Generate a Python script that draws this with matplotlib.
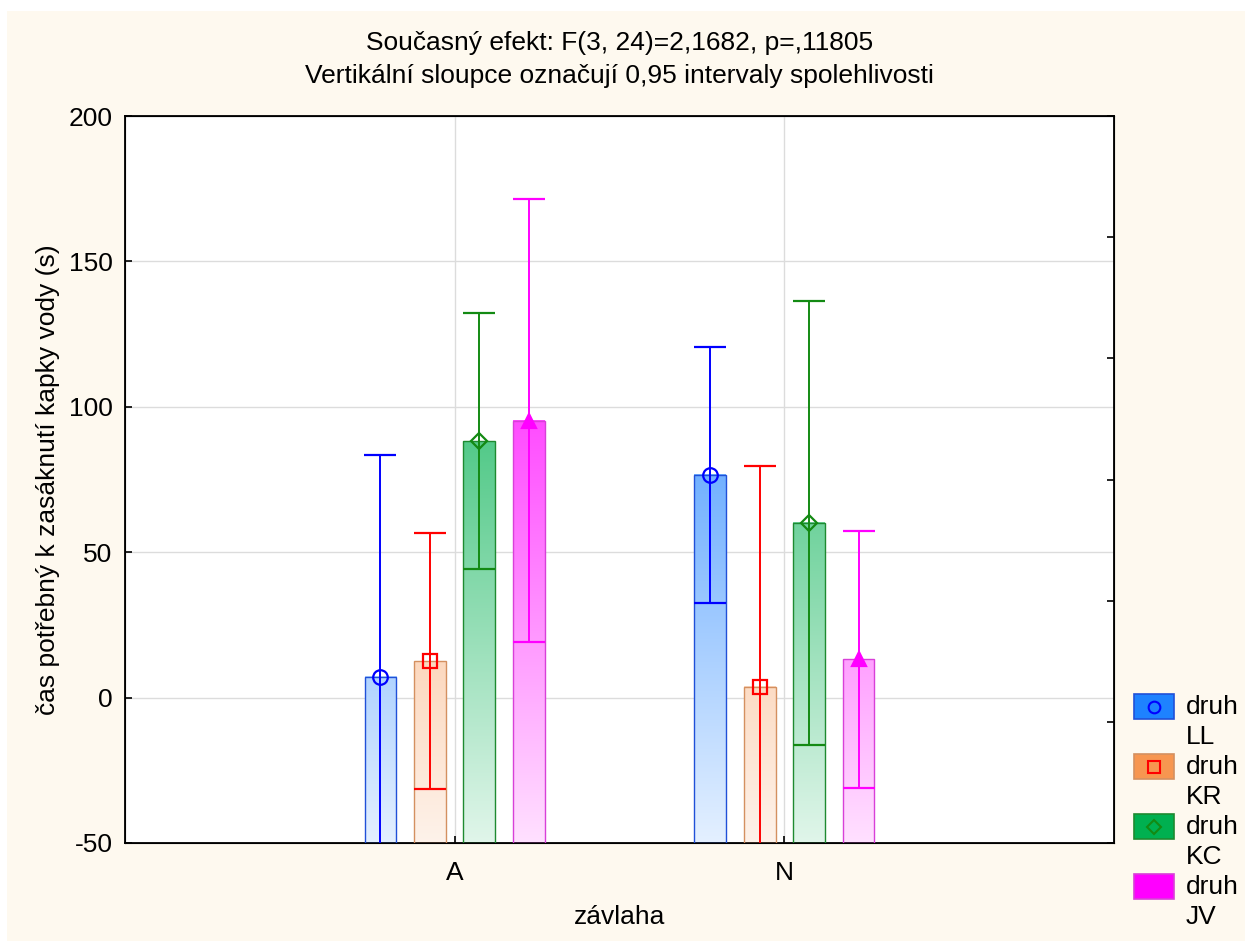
import numpy as np
import matplotlib
matplotlib.use("Agg")
import matplotlib.pyplot as plt
from matplotlib.patches import Rectangle
from matplotlib.lines import Line2D

plt.rcParams['font.family'] = ['Liberation Sans', 'DejaVu Sans']

# ---- data ----
groups = ["A", "N"]
series = ["druh\nLL", "druh\nKR", "druh\nKC", "druh\nJV"]
means = {
    "LL": [7.1, 76.6],
    "KR": [12.5, 3.8],
    "KC": [88.2, 60.1],
    "JV": [95.2, 13.2],
}
upper = {
    "LL": [83.3, 120.6],
    "KR": [56.5, 79.7],
    "KC": [132.2, 136.4],
    "JV": [171.4, 57.4],
}
lower = {
    "LL": [-69.1, 32.6],
    "KR": [-31.5, -72.1],
    "KC": [44.2, -16.2],
    "JV": [19.0, -31.0],
}
keys = ["LL", "KR", "KC", "JV"]
yticks = [-50, 0, 50, 100, 150, 200]

# ---- styles ----
base_col = {"LL": (30, 130, 255), "KR": (247, 150, 80), "KC": (0, 176, 80), "JV": (255, 0, 255)}
edge_col = {"LL": "#2050d8", "KR": "#d49060", "KC": "#1e8a30", "JV": "#d840d8"}
line_col = {"LL": "#0000ff", "KR": "#ff0000", "KC": "#138a13", "JV": "#ff00ff"}
markers = {"LL": "o", "KR": "s", "KC": "D", "JV": "^"}
msize = {"LL": 10.5, "KR": 10.0, "KC": 8.5, "JV": 10.0}
mface = {"LL": "none", "KR": "none", "KC": "none", "JV": "#ff00ff"}
offsets = [-0.225, -0.075, 0.075, 0.225]
bw = 0.097
YMIN, YMAX = -50, 200
FS = 19

W, H = 1245, 941
fig = plt.figure(figsize=(W / 100, H / 100), dpi=100, facecolor="white")
fig.patches.append(Rectangle((7 / W, 0), 1, (H - 11) / H, transform=fig.transFigure,
                             facecolor="#fef9ef", edgecolor="none", zorder=-10))

ax = fig.add_axes([125 / W, (H - 843) / H, 989 / W, 727 / H])
ax.set_facecolor("white")
ax.set_xlim(0, 3)
ax.set_ylim(YMIN, YMAX)

def grad_color(key, vals):
    b = np.array(base_col[key]) / 255.0
    f = (vals - YMIN) / (YMAX - YMIN)
    a = np.clip(0.12 + 1.0 * f, 0, 1)[:, None]
    return 1 - a * (1 - b)

for si, key in enumerate(keys):
    for gi in range(len(groups)):
        xc = gi + 1 + offsets[si]
        m = means[key][gi]
        vals = np.linspace(YMIN, m, 200)
        img = grad_color(key, vals)[:, None, :]
        ax.imshow(img, extent=[xc - bw / 2, xc + bw / 2, YMIN, m], origin="lower",
                  aspect="auto", zorder=2, interpolation="bilinear")
        ax.add_patch(Rectangle((xc - bw / 2, YMIN), bw, m - YMIN, facecolor="none",
                               edgecolor=edge_col[key], lw=1.0, zorder=3))
    xs = np.arange(1, len(groups) + 1) + offsets[si]
    mv = np.array(means[key])
    lo = mv - np.array(lower[key])
    up = np.array(upper[key]) - mv
    ax.errorbar(xs, mv, yerr=[lo, up], fmt=markers[key], color=line_col[key],
                ecolor=line_col[key], elinewidth=1.4, capsize=11.6, capthick=1.4,
                markersize=msize[key], markerfacecolor=mface[key],
                markeredgecolor=line_col[key], markeredgewidth=1.6, zorder=4)

ax.set_xlim(0, 3)
ax.set_ylim(YMIN, YMAX)
ax.set_xticks([1, 2])
ax.set_xticklabels(groups)
ax.set_yticks(yticks)
ax.set_yticklabels([str(t) for t in yticks])
ax.grid(True, color="#dcdcdc", lw=1.0, zorder=0)
ax.set_axisbelow(True)
ax.tick_params(axis="both", direction="in", length=5, width=1.2, labelsize=FS)
ax.tick_params(axis="y", pad=9)
ax.tick_params(axis="x", pad=13)
for sp in ax.spines.values():
    sp.set_linewidth(1.3)

ax2 = ax.twinx()
ax2.set_ylim(YMIN, YMAX)
ax2.set_yticks(np.linspace(YMIN, YMAX, 7))
ax2.set_yticklabels([])
ax2.tick_params(axis="y", direction="in", length=5, width=1.2)

ax.set_xlabel("závlaha", fontsize=FS, labelpad=14)
ax.set_ylabel("čas potřebný k zasáknutí kapky vody (s)", fontsize=FS, labelpad=6)
ax.set_title("Současný efekt: F(3, 24)=2,1682, p=,11805\n"
             "Vertikální sloupce označují 0,95 intervaly spolehlivosti",
             fontsize=FS, pad=24, linespacing=1.45)

# ---- legend (manual, figure coords) ----
for i, key in enumerate(keys):
    ytop = 694 + 60 * i
    fig.patches.append(Rectangle((1134 / W, (H - ytop - 25) / H), 40 / W, 25 / H,
                                 transform=fig.transFigure,
                                 facecolor=np.array(base_col[key]) / 255.0,
                                 edgecolor=edge_col[key], lw=1.2))
    if key != "JV":
        fig.add_artist(Line2D([1154 / W], [(H - ytop - 12.5) / H], transform=fig.transFigure,
                              marker=markers[key], markersize=msize[key] * 0.8,
                              markerfacecolor="none", markeredgecolor=line_col[key],
                              markeredgewidth=1.5, linestyle="none"))
    fig.text(1186 / W, (H - ytop - 1) / H, series[i], fontsize=FS, ha="left", va="top",
             linespacing=1.33)

fig.savefig("out.png", dpi=100, facecolor=fig.get_facecolor())
